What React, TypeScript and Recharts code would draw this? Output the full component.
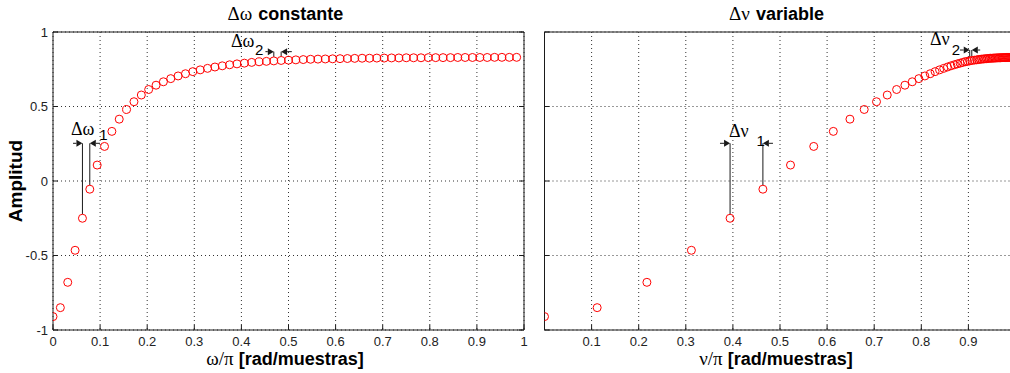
import React from "react";
import {
  ScatterChart,
  Scatter,
  XAxis,
  YAxis,
  CartesianGrid,
  ReferenceLine,
  ReferenceDot,
} from "recharts";

// ω/π, uniform grid (left panel)
const omega = [
  0, 0.0156, 0.0313, 0.0469, 0.0625, 0.0781, 0.0938, 0.1094,
  0.125, 0.1406, 0.1563, 0.1719, 0.1875, 0.2031, 0.2188, 0.2344,
  0.25, 0.2656, 0.2813, 0.2969, 0.3125, 0.3281, 0.3438, 0.3594,
  0.375, 0.3906, 0.4063, 0.4219, 0.4375, 0.4531, 0.4688, 0.4844,
  0.5, 0.5156, 0.5313, 0.5469, 0.5625, 0.5781, 0.5938, 0.6094,
  0.625, 0.6406, 0.6563, 0.6719, 0.6875, 0.7031, 0.7188, 0.7344,
  0.75, 0.7656, 0.7813, 0.7969, 0.8125, 0.8281, 0.8438, 0.8594,
  0.875, 0.8906, 0.9063, 0.9219, 0.9375, 0.9531, 0.9688, 0.9844,
];

// ν/π, warped grid (right panel)
const nu = [
  0, 0.1118, 0.2174, 0.3119, 0.394, 0.4637, 0.5223, 0.5716,
  0.6132, 0.6485, 0.6788, 0.7049, 0.7277, 0.7476, 0.7652, 0.7808,
  0.7948, 0.8075, 0.8189, 0.8293, 0.8388, 0.8476, 0.8556, 0.863,
  0.8701, 0.8764, 0.8824, 0.888, 0.8932, 0.8982, 0.9028, 0.9072,
  0.9125, 0.9176, 0.9213, 0.9249, 0.9284, 0.9318, 0.9351, 0.9382,
  0.9413, 0.9444, 0.9474, 0.9502, 0.953, 0.9558, 0.9584, 0.961,
  0.9636, 0.9661, 0.9685, 0.9709, 0.9733, 0.9757, 0.978, 0.9802,
  0.9825, 0.9847, 0.9869, 0.9891, 0.9913, 0.9935, 0.9957, 0.9978,
];

const amplitude = [
  -0.91, -0.85, -0.68, -0.465, -0.25, -0.055, 0.107, 0.232,
  0.333, 0.415, 0.48, 0.532, 0.577, 0.614, 0.643, 0.666,
  0.687, 0.705, 0.72, 0.734, 0.746, 0.756, 0.765, 0.773,
  0.78, 0.786, 0.791, 0.796, 0.8, 0.803, 0.806, 0.809,
  0.811, 0.813, 0.815, 0.817, 0.818, 0.819, 0.82, 0.821,
  0.822, 0.823, 0.824, 0.824, 0.825, 0.825, 0.826, 0.826,
  0.827, 0.827, 0.827, 0.828, 0.828, 0.828, 0.828, 0.829,
  0.829, 0.829, 0.829, 0.829, 0.83, 0.83, 0.83, 0.83,
];

const xTicksLeft = [0, 0.1, 0.2, 0.3, 0.4, 0.5, 0.6, 0.7, 0.8, 0.9, 1];
const xTicksRight = [0.1, 0.2, 0.3, 0.4, 0.5, 0.6, 0.7, 0.8, 0.9];
const yTicks = [-1, -0.5, 0, 0.5, 1];

type Seg = { x1: number; y1: number; x2: number; y2: number; arrow?: boolean };
type Note = { x: number; y: number; text: string; greek?: boolean };

// Δ annotations (data coordinates)
const leftSegs: Seg[] = [
  { x1: omega[4], y1: amplitude[4], x2: omega[4], y2: 0.253 },
  { x1: omega[5], y1: amplitude[5], x2: omega[5], y2: 0.253 },
  { x1: 0.0425, y1: 0.253, x2: omega[4], y2: 0.253, arrow: true },
  { x1: 0.0998, y1: 0.253, x2: omega[5], y2: 0.253, arrow: true },
  { x1: omega[30], y1: amplitude[30], x2: omega[30], y2: 0.868 },
  { x1: omega[31], y1: amplitude[31], x2: omega[31], y2: 0.868 },
  { x1: 0.451, y1: 0.868, x2: omega[30], y2: 0.868, arrow: true },
  { x1: 0.507, y1: 0.868, x2: omega[31], y2: 0.868, arrow: true },
];
const leftNotes: Note[] = [
  { x: 0.038, y: 0.309, text: "Δω", greek: true },
  { x: 0.098, y: 0.275, text: "1" },
  { x: 0.378, y: 0.901, text: "Δω", greek: true },
  { x: 0.429, y: 0.846, text: "2" },
];

const rightSegs: Seg[] = [
  { x1: nu[4], y1: amplitude[4], x2: nu[4], y2: 0.253 },
  { x1: nu[5], y1: amplitude[5], x2: nu[5], y2: 0.253 },
  { x1: 0.3726, y1: 0.253, x2: nu[4], y2: 0.253, arrow: true },
  { x1: 0.4851, y1: 0.253, x2: nu[5], y2: 0.253, arrow: true },
  { x1: nu[30], y1: amplitude[30], x2: nu[30], y2: 0.879 },
  { x1: nu[31], y1: amplitude[31], x2: nu[31], y2: 0.879 },
  { x1: 0.882, y1: 0.879, x2: nu[30], y2: 0.879, arrow: true },
  { x1: 0.925, y1: 0.879, x2: nu[31], y2: 0.879, arrow: true },
];
const rightNotes: Note[] = [
  { x: 0.3917, y: 0.295, text: "Δν", greek: true },
  { x: 0.45, y: 0.235, text: "1" },
  { x: 0.8185, y: 0.913, text: "Δν", greek: true },
  { x: 0.8646, y: 0.846, text: "2" },
];

const SANS = "'Liberation Sans', Arial, Helvetica, sans-serif";
const SERIF = "'Liberation Serif', 'DejaVu Serif', serif";
const FRAME = "#1a1a1a";
const tickText = { fontFamily: SANS, fontSize: 13, fill: "#222" };

const segShape = (arrow?: boolean) => (p: any) => {
  const { x1, y1, x2, y2 } = p;
  const dx = x2 - x1;
  const dy = y2 - y1;
  const len = Math.hypot(dx, dy) || 1;
  const ux = dx / len;
  const uy = dy / len;
  if (!arrow) {
    // start at the edge of the marker
    return <line x1={x1 + ux * 4} y1={y1 + uy * 4} x2={x2} y2={y2} stroke={FRAME} />;
  }
  const hl = 6;
  const hw = 3.5;
  const bx = x2 - ux * hl;
  const by = y2 - uy * hl;
  return (
    <g>
      <line x1={x1} y1={y1} x2={bx} y2={by} stroke={FRAME} />
      <polygon
        points={`${x2},${y2} ${bx - uy * hw},${by + ux * hw} ${bx + uy * hw},${by - ux * hw}`}
        fill={FRAME}
      />
    </g>
  );
};

const noteShape = (n: Note) => (p: any) => (
  <text
    x={p.cx}
    y={p.cy}
    fontFamily={n.greek ? SERIF : SANS}
    fontSize={n.greek ? 18 : 15}
    fill="#000"
  >
    {n.text}
  </text>
);

const marker = (p: any) => (
  <circle cx={p.cx} cy={p.cy} r={4} fill="none" stroke="#ff0000" strokeWidth={1} />
);

interface PanelProps {
  x: number[];
  xTicks: number[];
  segs: Seg[];
  notes: Note[];
  yLabels: boolean;
  width: number;
  left: number;
  plotLeft: number;
}

function Panel({ x, xTicks, segs, notes, yLabels, width, left, plotLeft }: PanelProps) {
  const data = x.map((v, i) => ({ x: v, y: amplitude[i] }));
  const plotRight = width - plotLeft - 471;
  return (
    <div style={{ position: "absolute", left, top: 0 }}>
      <ScatterChart
        width={width}
        height={373}
        margin={{ top: 22, bottom: 13, left: plotLeft - 20, right: plotRight - 10 }}
      >
        <CartesianGrid stroke="#333" strokeDasharray="1 3" />
        <XAxis
          type="number"
          dataKey="x"
          domain={[0, 1]}
          ticks={xTicks}
          interval={0}
          height={30}
          tickSize={0}
          tickMargin={0}
          tickLine={false}
          axisLine={{ stroke: FRAME }}
          allowDataOverflow
          tick={(p: any) => (
            <g>
              <line x1={p.x} y1={p.y} x2={p.x} y2={p.y - 5} stroke={FRAME} />
              <text x={p.x} y={p.y + 16} textAnchor="middle" {...tickText}>
                {String(p.payload.value)}
              </text>
            </g>
          )}
        />
        <XAxis
          xAxisId="top"
          orientation="top"
          type="number"
          domain={[0, 1]}
          ticks={xTicks}
          interval={0}
          height={10}
          tickSize={0}
          tickMargin={0}
          tickLine={false}
          axisLine={{ stroke: FRAME }}
          allowDataOverflow
          tick={(p: any) => (
            <line x1={p.x} y1={p.y} x2={p.x} y2={p.y + 5} stroke={FRAME} />
          )}
        />
        <YAxis
          type="number"
          dataKey="y"
          domain={[-1, 1]}
          ticks={yTicks}
          interval={0}
          width={20}
          tickSize={0}
          tickMargin={0}
          tickLine={false}
          axisLine={{ stroke: FRAME }}
          allowDataOverflow
          tick={(p: any) => (
            <g>
              <line x1={p.x} y1={p.y} x2={p.x + 5} y2={p.y} stroke={FRAME} />
              {yLabels && (
                <text x={p.x - 5} y={p.y + 4.5} textAnchor="end" {...tickText}>
                  {String(p.payload.value)}
                </text>
              )}
            </g>
          )}
        />
        <YAxis
          yAxisId="right"
          orientation="right"
          type="number"
          domain={[-1, 1]}
          ticks={yTicks}
          interval={0}
          width={10}
          tickSize={0}
          tickMargin={0}
          tickLine={false}
          axisLine={{ stroke: FRAME }}
          allowDataOverflow
          tick={(p: any) => (
            <line x1={p.x} y1={p.y} x2={p.x - 5} y2={p.y} stroke={FRAME} />
          )}
        />
        <Scatter data={data} shape={marker} isAnimationActive={false} />
        {segs.map((s, i) => (
          <ReferenceLine
            key={`s${i}`}
            segment={[
              { x: s.x1, y: s.y1 },
              { x: s.x2, y: s.y2 },
            ]}
            shape={segShape(s.arrow)}
          />
        ))}
        {notes.map((n, i) => (
          <ReferenceDot key={`n${i}`} x={n.x} y={n.y} r={1} shape={noteShape(n)} />
        ))}
      </ScatterChart>
    </div>
  );
}

export default function App() {
  const labelFont = { fontFamily: SANS, fontSize: 18, fontWeight: 700, fill: "#000" };
  return (
    <div
      style={{
        position: "absolute",
        left: 0,
        top: 0,
        width: 1010,
        height: 373,
        overflow: "hidden",
        background: "#fff",
      }}
    >
      <Panel x={omega} xTicks={xTicksLeft} segs={leftSegs} notes={leftNotes} yLabels width={540} left={0} plotLeft={53} />
      <Panel x={nu} xTicks={xTicksRight} segs={rightSegs} notes={rightNotes} yLabels={false} width={520} left={520} plotLeft={24.5} />
      <svg
        width={1010}
        height={373}
        style={{ position: "absolute", left: 0, top: 0, pointerEvents: "none" }}
      >
        <text x={285.5} y={20} textAnchor="middle" fontSize={19}>
          <tspan fontFamily={SERIF} fill="#000">Δω</tspan>
          <tspan dx={6} {...labelFont}>constante</tspan>
        </text>
        <text x={776.5} y={20} textAnchor="middle" fontSize={19}>
          <tspan fontFamily={SERIF} fill="#000">Δν</tspan>
          <tspan dx={6} {...labelFont}>variable</tspan>
        </text>
        <text x={285} y={365} textAnchor="middle" fontSize={19}>
          <tspan fontFamily={SERIF} fill="#000">ω/π</tspan>
          <tspan dx={5} {...labelFont}>[rad/muestras]</tspan>
        </text>
        <text x={776} y={365} textAnchor="middle" fontSize={19}>
          <tspan fontFamily={SERIF} fill="#000">ν/π</tspan>
          <tspan dx={5} {...labelFont}>[rad/muestras]</tspan>
        </text>
        <text transform="translate(22,181) rotate(-90)" textAnchor="middle" {...labelFont} fontSize={19}>
          Amplitud
        </text>
      </svg>
    </div>
  );
}
